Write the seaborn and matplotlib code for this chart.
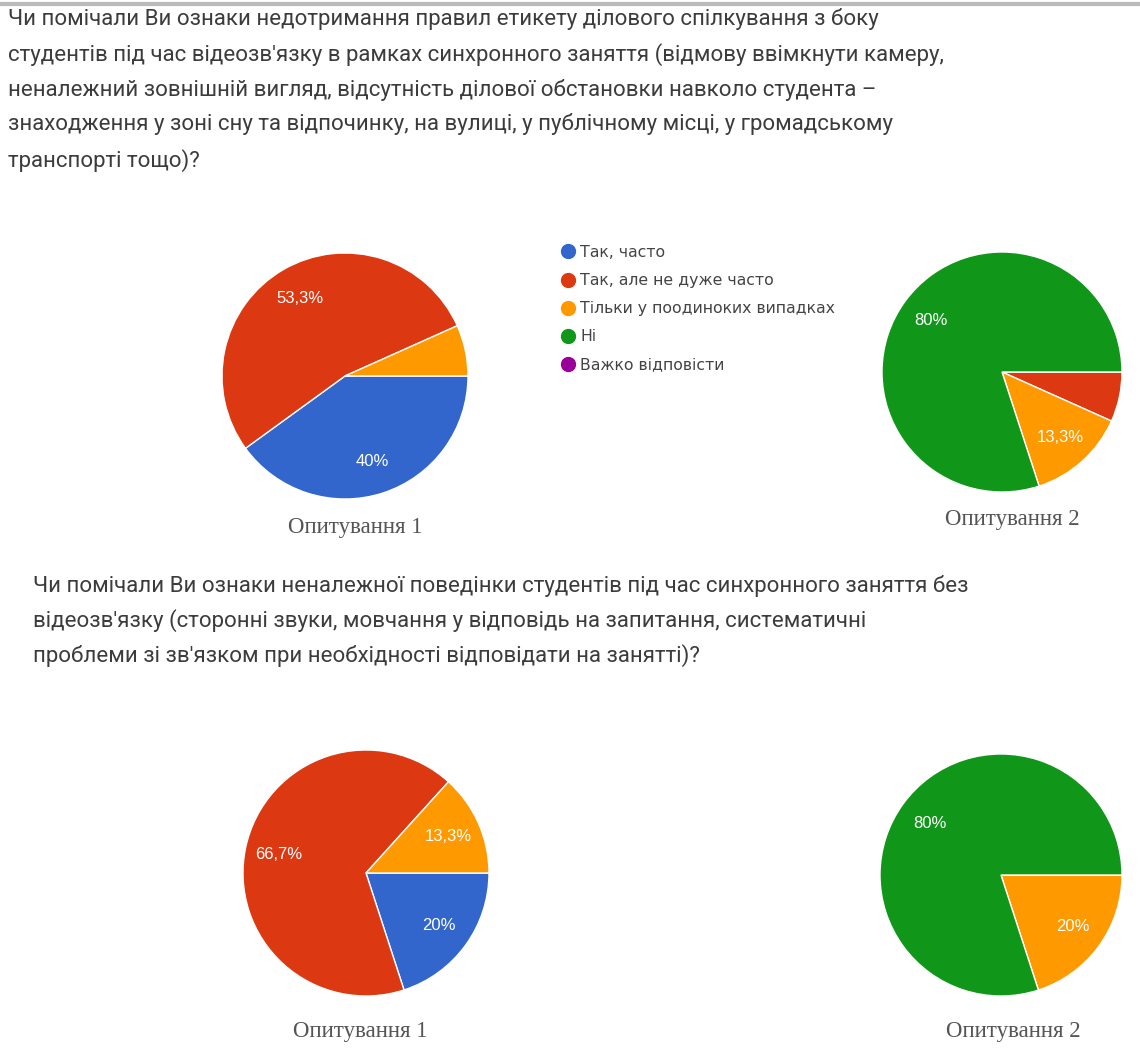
import matplotlib
matplotlib.use("Agg")
import matplotlib.pyplot as plt
import seaborn as sns
from matplotlib.lines import Line2D

# answer options and colours (Google Forms palette)
answers = ["Так, часто", "Так, але не дуже часто", "Тільки у поодиноких випадках", "Ні", "Важко відповісти"]
answer_colors = ["#3366cc", "#dc3912", "#ff9900", "#109618", "#990099"]

# shares in percent, same order as answers
q1_survey1 = [40.0, 53.3, 6.7, 0.0, 0.0]
q1_survey2 = [0.0, 6.7, 13.3, 80.0, 0.0]
q2_survey1 = [20.0, 66.7, 13.3, 0.0, 0.0]
q2_survey2 = [0.0, 0.0, 20.0, 80.0, 0.0]

survey_labels = ["Опитування 1", "Опитування 2"]

q1_text = ("Чи помічали Ви ознаки недотримання правил етикету ділового спілкування з боку\n"
           "студентів під час відеозв'язку в рамках синхронного заняття (відмову ввімкнути камеру,\n"
           "неналежний зовнішній вигляд, відсутність ділової обстановки навколо студента –\n"
           "знаходження у зоні сну та відпочинку, на вулиці, у публічному місці, у громадському\n"
           "транспорті тощо)?")
q2_text = ("Чи помічали Ви ознаки неналежної поведінки студентів під час синхронного заняття без\n"
           "відеозв'язку (сторонні звуки, мовчання у відповідь на запитання, систематичні\n"
           "проблеми зі зв'язком при необхідності відповідати на занятті)?")

sns.set_theme(style="white")
plt.rcParams['font.family'] = ['Roboto', 'DejaVu Sans']
palette = sns.color_palette(answer_colors)

W, H = 1140, 1054
fig = plt.figure(figsize=(W / 100, H / 100), dpi=100)
fig.patch.set_facecolor("white")


def px(x, y):
  return x / W, 1 - y / H


def pie_at(values, cx, cy, r):
  ax = fig.add_axes([(cx - r) / W, 1 - (cy + r) / H, 2 * r / W, 2 * r / H])
  vals = []
  cols = []
  for v, c in zip(values, palette):
    if v > 0:
      vals.append(v)
      cols.append(c)
  ax.pie(vals, colors=cols, startangle=0, counterclock=False, radius=1,
         autopct=lambda p: (("%.1f" % p).rstrip("0").rstrip(".").replace(".", ",") + "%") if p > 10 else "",
         pctdistance=0.73,
         wedgeprops=dict(edgecolor="white", linewidth=1),
         textprops=dict(color="white", fontsize=12, family="Liberation Sans"))
  ax.set_xlim(-1, 1)
  ax.set_ylim(-1, 1)
  ax.set_aspect("equal")
  ax.axis("off")
  return ax


# top border line of the page crop
fig.add_artist(Line2D([0, 1], [1 - 4 / H, 1 - 4 / H], color="#bbbbbb", lw=3, transform=fig.transFigure))

fig.text(*px(8, 8), q1_text, ha="left", va="top", fontsize=16, color="#3c3c3c", linespacing=1.74)
fig.text(*px(33, 575), q2_text, ha="left", va="top", fontsize=16, color="#3c3c3c", linespacing=1.66)

pie_at(q1_survey1, 345, 376, 123)
pie_at(q1_survey2, 1002, 372, 120)
pie_at(q2_survey1, 366, 873, 123)
pie_at(q2_survey2, 1001, 875, 121)

serif = dict(family="Liberation Serif", fontsize=16.5, color="#555555", ha="center", va="center")
fig.text(*px(355, 528), survey_labels[0], **serif)
fig.text(*px(1012, 520), survey_labels[1], **serif)
fig.text(*px(360, 1031), survey_labels[0], **serif)
fig.text(*px(1013, 1031), survey_labels[1], **serif)

# legend
handles = [Line2D([], [], marker="o", linestyle="", markersize=10, markerfacecolor=c, markeredgecolor=c)
           for c in palette]
fig.legend(handles, answers, loc="upper left", bbox_to_anchor=px(552, 237), frameon=False,
           handletextpad=0.3, labelspacing=0.84, handlelength=1.0, borderpad=0,
           prop=dict(family="DejaVu Sans", size=11.3), labelcolor="#444444")

fig.savefig("out.png", dpi=100, facecolor="white")
